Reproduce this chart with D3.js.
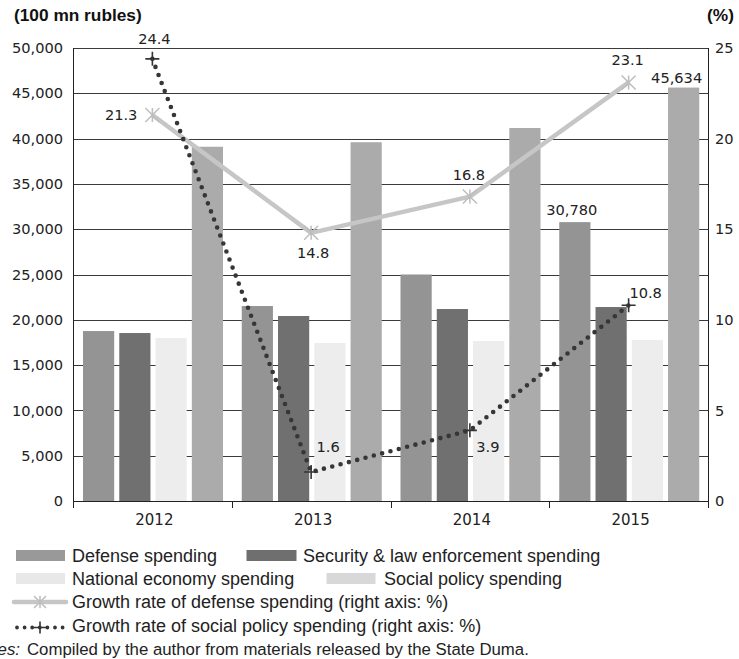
<!DOCTYPE html>
<html>
<head>
<meta charset="utf-8">
<script src="https://cdn.jsdelivr.net/npm/d3@7"></script>
<style>
  html, body { margin: 0; padding: 0; background: #fff; }
  svg { display: block; }
</style>
</head>
<body>
<svg id="chart" width="739" height="659"></svg>
<script>
// ---------------- data ----------------
const years = ["2012", "2013", "2014", "2015"];
const seriesNames = ["Defense spending", "Security & law enforcement spending", "National economy spending", "Social policy spending"];
const defenseSpending = [18760, 21520, 25000, 30780];
const securitySpending = [18540, 20420, 21190, 21410];
const nationalEconomySpending = [17990, 17440, 17660, 17770];
const socialPolicySpending = [39100, 39600, 41170, 45634];
const defenseGrowth = [21.3, 14.8, 16.8, 23.1];
const socialGrowth = [24.4, 1.6, 3.9, 10.8];
const leftTicks = [0, 5000, 10000, 15000, 20000, 25000, 30000, 35000, 40000, 45000, 50000];
const rightTicks = [0, 5, 10, 15, 20, 25];
const lineNames = ["Growth rate of defense spending (right axis: %)", "Growth rate of social policy spending (right axis: %)"];

// ---------------- layout / style ----------------
const svg = d3.select("#chart");
const L = 73, R = 708, T = 48, B = 501;
const barColors = ["#949494", "#707070", "#ededed", "#aaabaa"];
const legendColors = ["#999999", "#6f6f6f", "#e8e8e8", "#d8d8d8"];
const numFont = "'DejaVu Sans', sans-serif";
const txtFont = "'Liberation Sans', Arial, sans-serif";

const x = d3.scaleBand().domain(years).range([L, R]).paddingInner(0).paddingOuter(0);
const xs = d3.scaleBand().domain(d3.range(4)).range([10, 150]).paddingInner(0.14).paddingOuter(0);
const yL = d3.scaleLinear().domain([0, 50000]).range([B, T]);
const yR = d3.scaleLinear().domain([0, 25]).range([B, T]);

const table = years.map((yr, i) => ({
  year: yr,
  values: [defenseSpending[i], securitySpending[i], nationalEconomySpending[i], socialPolicySpending[i]]
}));

// gridlines
svg.append("g").selectAll("line").data(leftTicks.filter(d => d > 0)).join("line")
  .attr("x1", L).attr("x2", R)
  .attr("y1", d => Math.round(yL(d)) + 0.5).attr("y2", d => Math.round(yL(d)) + 0.5)
  .attr("stroke", "#3a3a3a").attr("stroke-width", 1);

// bars
const groups = svg.append("g").selectAll("g").data(table).join("g")
  .attr("transform", d => `translate(${x(d.year)},0)`);
groups.selectAll("rect").data(d => d.values.map((v, k) => ({ v, k }))).join("rect")
  .attr("x", d => xs(d.k)).attr("width", xs.bandwidth())
  .attr("y", d => yL(d.v)).attr("height", d => B - yL(d.v))
  .attr("fill", d => barColors[d.k]);

// left axis
const axL = svg.append("g").attr("transform", `translate(${L},0)`)
  .call(d3.axisLeft(yL).tickValues(leftTicks).tickSize(0).tickPadding(10).tickFormat(d3.format(",")));
axL.select(".domain").remove();
axL.selectAll("text").attr("font-family", numFont).attr("font-size", 14.6).attr("fill", "#222");
svg.append("line").attr("x1", L + 0.5).attr("x2", L + 0.5).attr("y1", T).attr("y2", B + 7)
  .attr("stroke", "#222").attr("stroke-width", 1);

// right axis
const axR = svg.append("g").attr("transform", `translate(${R},0)`)
  .call(d3.axisRight(yR).tickValues(rightTicks).tickSize(0).tickPadding(7));
axR.select(".domain").remove();
axR.selectAll("text").attr("font-family", numFont).attr("font-size", 14.6).attr("fill", "#222");
svg.append("line").attr("x1", R + 0.5).attr("x2", R + 0.5).attr("y1", T).attr("y2", B + 7)
  .attr("stroke", "#222").attr("stroke-width", 1);

// bottom axis
svg.append("line").attr("x1", L).attr("x2", R + 1).attr("y1", B + 0.5).attr("y2", B + 0.5)
  .attr("stroke", "#222").attr("stroke-width", 1);
svg.append("g").selectAll("line").data(years.slice(1)).join("line")
  .attr("x1", d => Math.round(x(d)) + 0.5).attr("x2", d => Math.round(x(d)) + 0.5)
  .attr("y1", B).attr("y2", B + 7).attr("stroke", "#222");
svg.append("g").selectAll("text").data(years).join("text")
  .attr("x", d => x(d) + x.bandwidth() / 2 + 2).attr("y", 525)
  .attr("text-anchor", "middle").attr("font-family", numFont).attr("font-size", 15).attr("fill", "#222")
  .text(d => d);

// unit titles
svg.append("text").attr("x", 14).attr("y", 21).attr("font-family", txtFont).attr("font-weight", "bold")
  .attr("font-size", 17.3).attr("fill", "#111").text("(100 mn rubles)");
svg.append("text").attr("x", 734).attr("y", 21).attr("text-anchor", "end").attr("font-family", txtFont)
  .attr("font-weight", "bold").attr("font-size", 17.3).attr("fill", "#111").text("(%)");

// markers
function asterisk(g, cx, cy, s, color) {
  const p = `M${cx},${cy - s}L${cx},${cy + s}M${cx - s},${cy - s}L${cx + s},${cy + s}M${cx - s},${cy + s}L${cx + s},${cy - s}`;
  g.append("path").attr("d", p).attr("stroke", color).attr("stroke-width", 1.5).attr("fill", "none");
}
function plus(g, cx, cy, s, color) {
  const p = `M${cx},${cy - s}L${cx},${cy + s}M${cx - s},${cy}L${cx + s},${cy}`;
  g.append("path").attr("d", p).attr("stroke", color).attr("stroke-width", 1.6).attr("fill", "none");
}

const cx = d => x(d) + x.bandwidth() / 2;

// defense growth line
const gLine1 = svg.append("g");
gLine1.append("path").datum(defenseGrowth)
  .attr("d", d3.line().x((d, i) => cx(years[i])).y(d => yR(d)))
  .attr("fill", "none").attr("stroke", "#c6c6c6").attr("stroke-width", 4.5).attr("stroke-linejoin", "round");
defenseGrowth.forEach((v, i) => asterisk(gLine1, cx(years[i]), yR(v), 7, "#bdbdbd"));

// social growth line (dotted)
const gLine2 = svg.append("g");
gLine2.append("path").datum(socialGrowth)
  .attr("d", d3.line().x((d, i) => cx(years[i])).y(d => yR(d)))
  .attr("fill", "none").attr("stroke", "#363636").attr("stroke-width", 4.6)
  .attr("stroke-linecap", "round").attr("stroke-dasharray", "0 8.6");
socialGrowth.forEach((v, i) => plus(gLine2, cx(years[i]), yR(v), 7, "#333"));

// data labels
const labelStyle = s => s.attr("font-family", numFont).attr("font-size", 14.6).attr("fill", "#222");
// placement offsets for labels: [dx, dy, anchor]
const defLabelPos = [[-15, 5, "end"], [2, 25, "middle"], [-1, -17, "middle"], [-1, -17, "middle"]];
const socLabelPos = [[2, -15, "middle"], [17, -20, "middle"], [18, 22, "middle"], [17, -7, "middle"]];
svg.append("g").selectAll("text").data(defenseGrowth).join("text")
  .attr("x", (d, i) => cx(years[i]) + defLabelPos[i][0]).attr("y", (d, i) => yR(d) + defLabelPos[i][1])
  .attr("text-anchor", (d, i) => defLabelPos[i][2]).call(labelStyle).text(d => d.toFixed(1));
svg.append("g").selectAll("text").data(socialGrowth).join("text")
  .attr("x", (d, i) => cx(years[i]) + socLabelPos[i][0]).attr("y", (d, i) => yR(d) + socLabelPos[i][1])
  .attr("text-anchor", (d, i) => socLabelPos[i][2]).call(labelStyle).text(d => d.toFixed(1));

// bar value labels (2015 defense & social)
const last = years.length - 1;
svg.append("text").attr("x", x(years[last]) + xs(0) + xs.bandwidth() / 2 - 3).attr("y", yL(defenseSpending[last]) - 7)
  .attr("text-anchor", "middle").call(labelStyle).text(d3.format(",")(defenseSpending[last]));
svg.append("text").attr("x", x(years[last]) + xs(3) + xs.bandwidth() / 2 - 7).attr("y", yL(socialPolicySpending[last]) - 5)
  .attr("text-anchor", "middle").call(labelStyle).text(d3.format(",")(socialPolicySpending[last]));

// legend
const lg = svg.append("g");
const legTxt = s => s.attr("font-family", txtFont).attr("font-size", 18).attr("fill", "#222");
const legItems = [
  { k: 0, sx: 16, sw: 49, tx: 72, y: 561.5 },
  { k: 1, sx: 246.5, sw: 50, tx: 303, y: 561.5 },
  { k: 2, sx: 16, sw: 49, tx: 72, y: 584.5 },
  { k: 3, sx: 326.5, sw: 49, tx: 384, y: 584.5 }
];
legItems.forEach(it => {
  lg.append("rect").attr("x", it.sx).attr("y", it.y - 11.5).attr("width", it.sw).attr("height", 11).attr("fill", legendColors[it.k]);
  lg.append("text").attr("x", it.tx).attr("y", it.y).call(legTxt).text(seriesNames[it.k]);
});
lg.append("line").attr("x1", 14).attr("x2", 66).attr("y1", 602).attr("y2", 602)
  .attr("stroke", "#c6c6c6").attr("stroke-width", 4.5).attr("stroke-linecap", "round");
asterisk(lg, 40, 602, 6, "#bdbdbd");
lg.append("text").attr("x", 72).attr("y", 608).call(legTxt).text(lineNames[0]);
lg.append("line").attr("x1", 17).attr("x2", 64).attr("y1", 627.5).attr("y2", 627.5)
  .attr("stroke", "#363636").attr("stroke-width", 3.8).attr("stroke-linecap", "round").attr("stroke-dasharray", "0 7.6");
plus(lg, 40, 627.5, 6, "#333");
lg.append("text").attr("x", 72).attr("y", 632).call(legTxt).text(lineNames[1]);

// source note (the "Sources:" lead-in is partly cut at the left edge, as in the reference)
svg.append("text").attr("x", 20).attr("y", 654.5).attr("text-anchor", "end").attr("font-style", "italic")
  .call(legTxt).attr("font-size", 16.8).text("Sources:");
svg.append("text").attr("x", 27).attr("y", 654.5).call(legTxt).attr("font-size", 16.8)
  .text("Compiled by the author from materials released by the State Duma.");
</script>
</body>
</html>
